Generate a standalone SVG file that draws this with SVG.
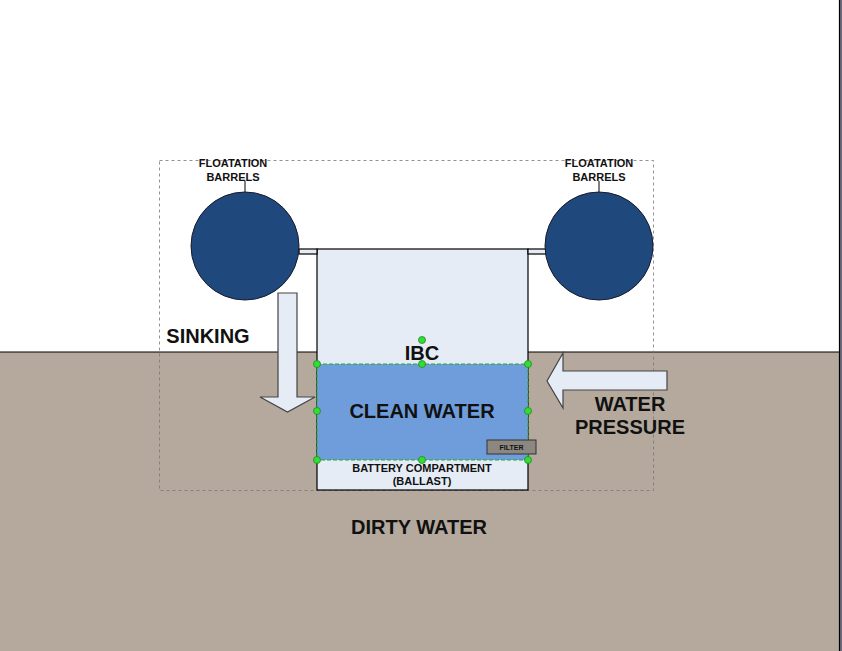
<svg xmlns="http://www.w3.org/2000/svg" width="842" height="651" viewBox="0 0 842 651">
<style>
text{font-family:"Liberation Sans",Arial,sans-serif;font-weight:bold;fill:#111;text-anchor:middle}
.big{font-size:20px}
.sm{font-size:11px}
.barrel{fill:#1f497d;stroke:#1a1a2a;stroke-width:1}
.light{fill:#e6ecf5;stroke:#000;stroke-width:1.2}
.arrow{fill:#e6ecf5;stroke:#444;stroke-width:1.2}
.handle{fill:#33dd33;stroke:#228822;stroke-width:0.8}
</style>
<rect x="0" y="0" width="842" height="651" fill="#ffffff"/>
<g id="ground">
<rect x="0" y="352" width="839" height="299" fill="#b4a99c"/>
<line x1="0" y1="352" x2="839" y2="352" stroke="#000" stroke-width="1.2"/>
</g>
<rect x="840" y="0" width="2" height="651" fill="#6f6b80"/>
<line x1="839.5" y1="0" x2="839.5" y2="651" stroke="#000" stroke-width="1.2"/>
<g id="frame">
<rect x="159.5" y="160.5" width="494" height="330" fill="none" stroke="#777" stroke-width="0.8" stroke-dasharray="3,3"/>
</g>
<g id="ibc">
<rect class="light" x="317" y="249" width="211" height="241"/>
<text class="big" x="422" y="360">IBC</text>
</g>
<g id="connectors">
<rect class="light" x="299" y="249" width="18" height="5"/>
<rect class="light" x="528" y="249" width="18" height="5"/>
<line x1="245" y1="181" x2="245" y2="192" stroke="#000" stroke-width="1"/>
<line x1="599" y1="181" x2="599" y2="192" stroke="#000" stroke-width="1"/>
</g>
<g id="barrel-left">
<circle class="barrel" cx="245" cy="246" r="54"/>
<text class="sm" x="233" y="167">FLOATATION</text>
<text class="sm" x="233" y="181">BARRELS</text>
</g>
<g id="barrel-right">
<circle class="barrel" cx="599" cy="246" r="54"/>
<text class="sm" x="599" y="167">FLOATATION</text>
<text class="sm" x="599" y="181">BARRELS</text>
</g>
<g id="clean-water">
<rect x="317" y="364" width="211" height="96" fill="#6f9ddb" stroke="#22aa22" stroke-width="1" stroke-dasharray="4,2"/>
<text class="big" x="422" y="418">CLEAN WATER</text>
<g class="handle">
<circle cx="422" cy="340" r="3.5"/>
<circle cx="317" cy="364" r="3.5"/>
<circle cx="422" cy="364" r="3.5"/>
<circle cx="528" cy="364" r="3.5"/>
<circle cx="317" cy="411" r="3.5"/>
<circle cx="528" cy="411" r="3.5"/>
<circle cx="317" cy="460" r="3.5"/>
<circle cx="422" cy="460" r="3.5"/>
<circle cx="528" cy="460" r="3.5"/>
</g>
</g>
<g id="filter">
<rect x="487" y="440" width="49" height="14" fill="#8c8780" stroke="#333" stroke-width="1"/>
<text x="511.5" y="450" style="font-size:7px">FILTER</text>
</g>
<g id="battery">
<text class="sm" x="422" y="472">BATTERY COMPARTMENT</text>
<text class="sm" x="422" y="485">(BALLAST)</text>
</g>
<g id="sinking">
<polygon class="arrow" points="278,293 297,293 297,397 315,397 287.5,412 260,397 278,397"/>
<text class="big" x="208" y="343">SINKING</text>
</g>
<g id="water-pressure">
<polygon class="arrow" points="667,371 667,390 563,390 563,408 547,381 563,353 563,371"/>
<text class="big" x="630" y="411">WATER</text>
<text class="big" x="630" y="434">PRESSURE</text>
</g>
<g id="dirty-water">
<text class="big" x="419" y="534">DIRTY WATER</text>
</g>
</svg>
